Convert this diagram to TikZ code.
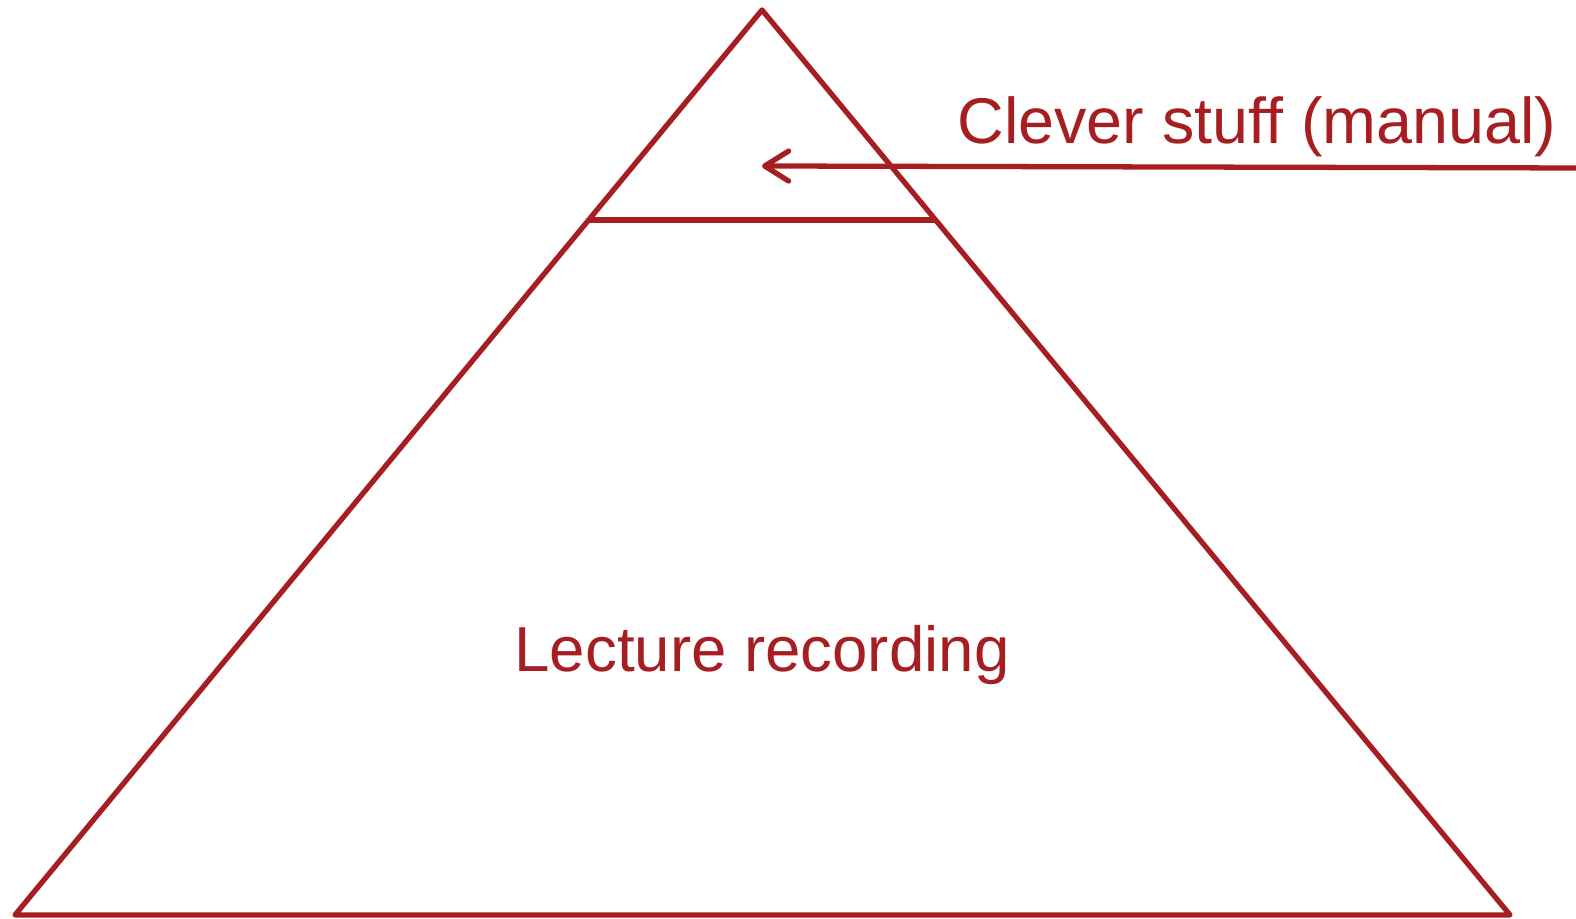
\documentclass[tikz,border=0pt]{standalone}
\usepackage{fontspec}
\setmainfont[Ligatures=NoCommon]{Liberation Sans}
\usetikzlibrary{arrows.meta}
\usetikzlibrary{positioning}
\usetikzlibrary{calc}
\definecolor{pyr-red}{HTML}{A61E22}
\colorlet{edge}{pyr-red}
\tikzset{
  pyrline/.style={draw=edge,line width=1.5pt,line join=round},
  pyrlabel/.style={text=edge,anchor=base,inner sep=0pt},
}
\begin{document}
\begin{tikzpicture}
\useasboundingbox (0,0) rectangle (15.76,9.19);
% corners of the pyramid
\coordinate (top) at (7.62,9.09);
\coordinate (bl) at (0.15,0.04);
\coordinate (br) at (15.10,0.04);
\coordinate (cutl) at ($(bl)!0.768!(top)$);
\coordinate (cutr) at ($(br)!0.768!(top)$);
\draw[pyrline] (top) -- (bl) -- (br) -- cycle;
\draw[pyrline] (cutl) -- (cutr);
% labels
\node[pyrlabel,font=\fontsize{18.4}{22}\selectfont] (clever) at (12.57,7.75) {Clever stuff (manual)};
\node[pyrlabel,font=\fontsize{18.1}{22}\selectfont] (lecture) at (7.62,2.47) {Lecture recording};
% arrow into the top part
\coordinate (arrstart) at (15.76,7.51);
\coordinate (arrend) at (7.62,7.53);
\draw[pyrline,line cap=round,-{Straight Barb[length=0.24cm,width=0.3cm,round]}] (arrstart) -- (arrend);
\end{tikzpicture}
\end{document}
